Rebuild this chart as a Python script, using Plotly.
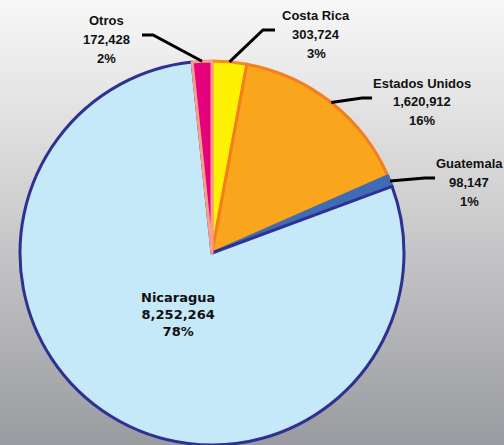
import math
import base64
import plotly.graph_objects as go

# ---- data ----
countries = ["Costa Rica", "Estados Unidos", "Guatemala", "Nicaragua", "Otros"]
values = [303724, 1620912, 98147, 8252264, 172428]
value_labels = ["303,724", "1,620,912", "98,147", "8,252,264", "172,428"]
pct_labels = ["3%", "16%", "1%", "78%", "2%"]

# ---- style ----
fill_colors = ["#FFF200", "#F9A61C", "#3E6DB5", "#C6E9F9", "#E5007D"]
line_colors = ["#F68B1F", "#F47F20", "#3E6DB5", "#2E3192", "#F4A08C"]

W, H = 504, 445
cx, cy, R = 212, 253, 192  # pie centre / radius in pixels (from top-left)

def px(x):
    return x / W

def py(y):
    return 1 - y / H

# gradient background as svg image
svg = (
    '<svg xmlns="http://www.w3.org/2000/svg" width="504" height="445">'
    '<defs><linearGradient id="g" x1="0" y1="0" x2="0" y2="1">'
    '<stop offset="0" stop-color="#F8F8F8"/>'
    '<stop offset="0.45" stop-color="#D0D0D1"/>'
    '<stop offset="1" stop-color="#9A9BA0"/>'
    '</linearGradient></defs>'
    '<rect width="504" height="445" fill="url(#g)"/></svg>'
)
bg_uri = "data:image/svg+xml;base64," + base64.b64encode(svg.encode()).decode()

fig = go.Figure()
fig.add_trace(go.Pie(
    labels=countries,
    values=values,
    sort=False,
    direction="clockwise",
    rotation=0,
    textinfo="none",
    hoverinfo="skip",
    showlegend=False,
    marker=dict(colors=fill_colors, line=dict(color=line_colors, width=3)),
    domain=dict(x=[(cx - R) / W, (cx + R) / W], y=[(H - cy - R) / H, (H - cy + R) / H]),
))

# label layout: (text centre x, line centre ys, elbow start x, elbow end x, elbow y)
label_layout = {
    "Otros": (106, (20, 39, 58), 142, 153, 35),
    "Costa Rica": (316, (16, 35, 53), 275, 263, 30),
    "Estados Unidos": (422, (83, 102, 121), 372, 362, 98),
    "Guatemala": (469, (163, 183, 202), 435, 425, 178),
}

total = sum(values)
cum = 0.0
annotations = []
shapes = []
for name, v, vl, pl in zip(countries, values, value_labels, pct_labels):
    start = cum
    cum += v
    mid = (start + v / 2) / total * 360.0
    if name in label_layout:
        tx, tys, ex0, ex1, ey = label_layout[name]
        rx = cx + R * math.sin(math.radians(mid))
        ry = cy - R * math.cos(math.radians(mid))
        shapes.append(dict(
            type="path", xref="paper", yref="paper",
            path=f"M {px(ex0)},{py(ey)} L {px(ex1)},{py(ey)} L {px(rx)},{py(ry)}",
            line=dict(color="black", width=3),
        ))
        for line_text, ty in zip((name, vl, pl), tys):
            annotations.append(dict(
                x=px(tx), y=py(ty), xref="paper", yref="paper",
                text=f"<b>{line_text}</b>", showarrow=False,
                xanchor="center", yanchor="middle", align="center",
                font=dict(family="Liberation Sans", size=13, color="#111111"),
            ))
    else:
        annotations.append(dict(
            x=px(178), y=py(314), xref="paper", yref="paper",
            text=f"<b>{name}</b><br><b>{vl}</b><br><b>{pl}</b>", showarrow=False,
            xanchor="center", yanchor="middle", align="center",
            font=dict(family="DejaVu Sans", size=13, color="#111111"),
        ))

fig.update_layout(
    width=W, height=H,
    margin=dict(l=0, r=0, t=0, b=0),
    paper_bgcolor="#D0D0D1",
    plot_bgcolor="rgba(0,0,0,0)",
    images=[dict(source=bg_uri, xref="paper", yref="paper", x=0, y=1,
                 sizex=1, sizey=1, sizing="stretch", layer="below",
                 xanchor="left", yanchor="top")],
    shapes=shapes,
    annotations=annotations,
)

fig.write_html("out.html")
